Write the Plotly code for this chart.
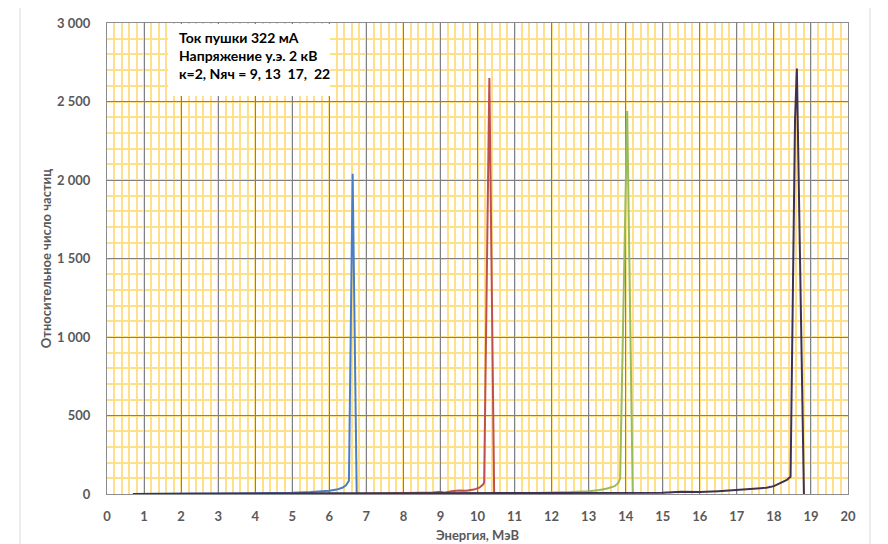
import plotly.graph_objects as go

# ---- data ----
blue_x = [0.7, 1.0, 1.5, 2.0, 2.5, 3.0, 3.5, 4.0, 4.5, 5.0, 5.5, 5.8, 6.0, 6.2, 6.35, 6.45, 6.53, 6.63, 6.74]
blue_y = [0, 1, 2, 2, 3, 3, 4, 4, 6, 8, 12, 15, 20, 28, 40, 55, 85, 2040, 0]

red_x = [6.7, 7.5, 8.0, 8.5, 8.8, 9.0, 9.1, 9.3, 9.5, 9.7, 9.9, 10.05, 10.15, 10.18, 10.32, 10.45]
red_y = [0, 3, 5, 8, 10, 14, 8, 18, 22, 20, 28, 40, 60, 75, 2650, 0]

green_x = [10.45, 11.0, 11.5, 12.0, 12.5, 13.0, 13.3, 13.5, 13.7, 13.8, 13.85, 14.04, 14.19]
green_y = [0, 3, 5, 8, 12, 18, 25, 35, 50, 70, 100, 2440, 0]

purple_x = [0.7, 2.0, 4.0, 6.0, 8.0, 10.0, 12.0, 14.0, 15.0, 15.5, 16.0, 16.5, 17.0, 17.5, 17.8, 18.0,
            18.2, 18.35, 18.45, 18.57, 18.62, 18.81]
purple_y = [0, 2, 3, 4, 4, 5, 6, 7, 8, 14, 12, 18, 25, 35, 40, 50, 70, 90, 110, 2380, 2710, 0]

x_ticks = list(range(0, 21))
y_ticks = [0, 500, 1000, 1500, 2000, 2500, 3000]
y_tick_labels = ["0", "500", "1 000", "1 500", "2 000", "2 500", "3 000"]

note_lines = ["Ток пушки 322 мА", "Напряжение у.э. 2 кВ", "к=2, Nяч = 9, 13  17,  22"]

series = [
    (blue_x, blue_y, "#4A7EC4"),
    (red_x, red_y, "#C0504D"),
    (green_x, green_y, "#9BBB59"),
    (purple_x, purple_y, "#3F3151"),
]

FONT = "Lato"
GRAY = "#595959"

fig = go.Figure()
for xs, ys, col in series:
    fig.add_trace(go.Scatter(x=xs, y=ys, mode="lines", line=dict(color=col, width=2),
                             showlegend=False, hoverinfo="skip"))

fig.update_layout(
    width=880, height=536,
    margin=dict(l=99, r=40, t=15, b=50, autoexpand=False),
    paper_bgcolor="white", plot_bgcolor="white",
    font=dict(family=FONT, color=GRAY),
    showlegend=False,
)

fig.update_xaxes(
    range=[0, 20], tickvals=x_ticks, ticktext=[str(v) for v in x_ticks],
    showgrid=True, gridcolor="#808080", gridwidth=1,
    minor=dict(dtick=0.2, showgrid=True, gridcolor="#FFE08A", gridwidth=1.5),
    showline=True, linecolor="#8C8C8C", linewidth=1, mirror=True,
    zeroline=False, ticks="", ticklabelstandoff=10,
    tickfont=dict(family=FONT, size=13, color=GRAY, weight="bold"),
    title=dict(text="Энергия, МэВ", font=dict(family=FONT, size=13, color=GRAY, weight="bold"), standoff=8),
)
fig.update_yaxes(
    range=[0, 3000], tickvals=y_ticks, ticktext=y_tick_labels,
    showgrid=True, gridcolor="#808080", gridwidth=1,
    minor=dict(dtick=100, showgrid=True, gridcolor="#FFE08A", gridwidth=1.5),
    showline=True, linecolor="#8C8C8C", linewidth=1, mirror=True,
    zeroline=False, ticks="", ticklabelstandoff=13,
    tickfont=dict(family=FONT, size=13, color=GRAY, weight="bold"),
    title=dict(text="Относительное число частиц", font=dict(family=FONT, size=13, color=GRAY, weight="bold"), standoff=2),
)

# white box behind the note
fig.add_shape(type="rect", xref="paper", yref="paper",
              x0=0.0823, x1=0.301, y0=0.845, y1=0.998,
              fillcolor="white", line=dict(width=0), layer="above")
fig.add_annotation(xref="paper", yref="paper", x=0.0945, y=0.992, xanchor="left", yanchor="top",
                   align="left", showarrow=False,
                   text="<br>".join(note_lines),
                   font=dict(family=FONT, size=14, color="#000000", weight="bold"))

# outer chart frame
fig.add_shape(type="rect", xref="paper", yref="paper",
              x0=-0.1174, x1=1.0297, y0=-0.2, y1=1.034,
              fillcolor="rgba(0,0,0,0)", line=dict(color="#D9D9D9", width=1), layer="below")

fig.write_html("out.html")
